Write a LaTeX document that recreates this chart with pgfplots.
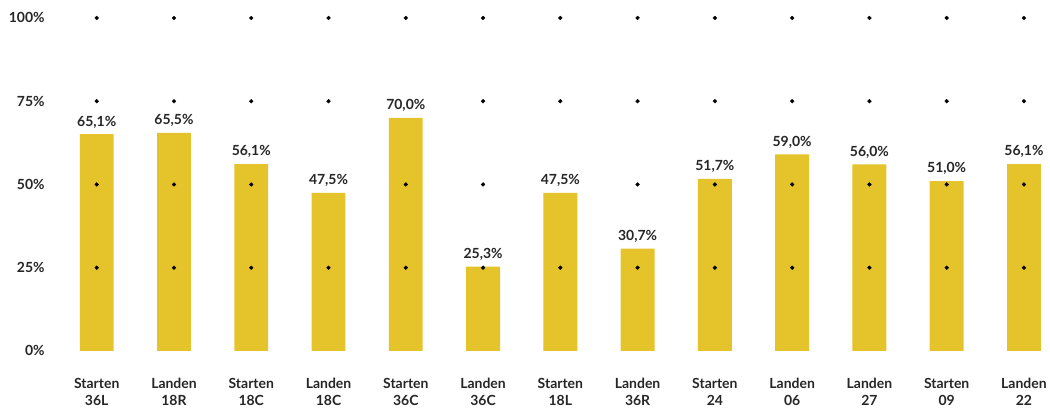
\documentclass[border=0pt]{standalone}
\usepackage{fontspec}
\setmainfont{Lato}
\usepackage{pgfplots}
\pgfplotsset{compat=1.18}
\definecolor{baryellow}{RGB}{229,195,42}
\begin{document}
\begin{tikzpicture}
\begin{axis}[
  scale only axis,
  width=992pt,height=334pt,
  xmin=-0.5,xmax=12.3,ymin=0,ymax=100,
  axis line style={draw=none},
  major tick length=0pt,
  clip=false,
  font=\fontsize{14}{17}\selectfont\bfseries,
  /pgf/number format/assume math mode=true,
  ytick={0,25,50,75,100},
  yticklabels={0\%,25\%,50\%,75\%,100\%},
  yticklabel style={xshift=-10pt,text=black!85},
  xtick={0,...,12},
  xticklabels={{Starten\\36L},{Landen\\18R},{Starten\\18C},{Landen\\18C},{Starten\\36C},{Landen\\36C},{Starten\\18L},{Landen\\36R},{Starten\\24},{Landen\\06},{Landen\\27},{Starten\\09},{Landen\\22}},
  xticklabel style={align=center,yshift=-24pt,text=black!85},
  nodes near coords style={font=\fontsize{14}{17}\selectfont\bfseries,text=black!85,
    fill=white,inner ysep=1pt,inner xsep=2pt,yshift=5pt},
]
% bars
\addplot[ybar,bar width=34pt,fill=baryellow,draw=none] coordinates {
  (0,65.1) (1,65.5) (2,56.1) (3,47.5) (4,70.0) (5,25.3) (6,47.5)
  (7,30.7) (8,51.7) (9,59.0) (10,56.0) (11,51.0) (12,56.1)};
% grid dots
\addplot[only marks,mark=*,mark size=1.9pt,black] coordinates {
  (0,25)(0,50)(0,75)(0,100) (1,25)(1,50)(1,75)(1,100)
  (2,25)(2,50)(2,75)(2,100) (3,25)(3,50)(3,75)(3,100)
  (4,25)(4,50)(4,75)(4,100) (5,25)(5,50)(5,75)(5,100)
  (6,25)(6,50)(6,75)(6,100) (7,25)(7,50)(7,75)(7,100)
  (8,25)(8,50)(8,75)(8,100) (9,25)(9,50)(9,75)(9,100)
  (10,25)(10,50)(10,75)(10,100) (11,25)(11,50)(11,75)(11,100)
  (12,25)(12,50)(12,75)(12,100)};
% value labels, above dots
\addplot[draw=none,mark=none,point meta=explicit symbolic,nodes near coords]
  coordinates {
  (0,65.1)[65,1\%] (1,65.5)[65,5\%] (2,56.1)[56,1\%] (3,47.5)[47,5\%]
  (4,70.0)[70,0\%] (5,25.3)[25,3\%] (6,47.5)[47,5\%] (7,30.7)[30,7\%]
  (8,51.7)[51,7\%] (9,59.0)[59,0\%] (10,56.0)[56,0\%] (11,51.0)[51,0\%]
  (12,56.1)[56,1\%]};
\end{axis}
\path (current axis.south west) ++(-58.25pt,-57pt) rectangle ++(1050pt,409pt);
\end{tikzpicture}
\end{document}
